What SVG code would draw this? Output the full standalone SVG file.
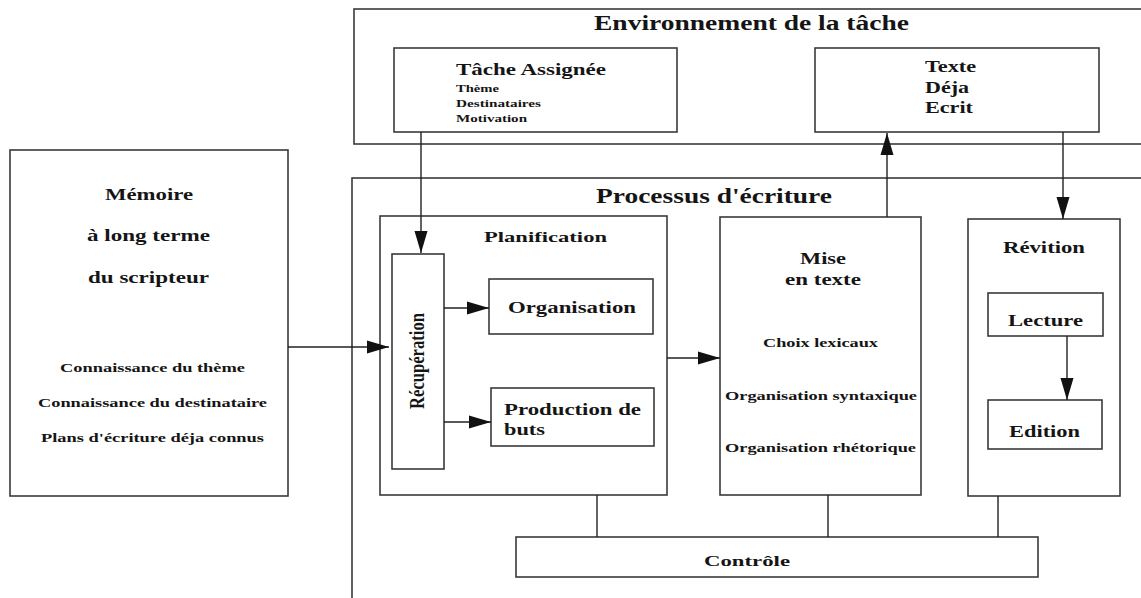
<svg xmlns="http://www.w3.org/2000/svg" width="1141" height="598" viewBox="0 0 1141 598">
<defs>
<style>
.box{fill:#fff;stroke:#3a3a3a;stroke-width:1.6}
.frame{fill:none;stroke:#3a3a3a;stroke-width:1.6}
.ln{fill:none;stroke:#222;stroke-width:1.4}
text{font-family:"Liberation Serif","Times New Roman",serif;font-weight:bold;fill:#151515}
</style>
<marker id="ah" markerUnits="userSpaceOnUse" markerWidth="24" markerHeight="14" refX="22" refY="7" orient="auto">
<path d="M0,0.5 L22,7 L0,13.5 z" fill="#111"/>
</marker>
</defs>
<rect width="1141" height="598" fill="#fff"/>

<g id="environnement">
<rect class="frame" x="354" y="9" width="800" height="135"/>
<text x="594" y="30" font-size="20" textLength="315" lengthAdjust="spacingAndGlyphs">Environnement de la tâche</text>
</g>
<g id="tache-assignee">
<rect class="box" x="394" y="48" width="283" height="84"/>
<text x="456" y="75" font-size="17" textLength="150" lengthAdjust="spacingAndGlyphs">Tâche Assignée</text>
<text x="456" y="92" font-size="10" textLength="43" lengthAdjust="spacingAndGlyphs">Thème</text>
<text x="456" y="107" font-size="10" textLength="85" lengthAdjust="spacingAndGlyphs">Destinataires</text>
<text x="456" y="122" font-size="10" textLength="71" lengthAdjust="spacingAndGlyphs">Motivation</text>
</g>
<g id="texte-deja-ecrit">
<rect class="box" x="815" y="48" width="284" height="84"/>
<text x="925" y="72" font-size="16" textLength="51" lengthAdjust="spacingAndGlyphs">Texte</text>
<text x="925" y="93" font-size="16" textLength="44" lengthAdjust="spacingAndGlyphs">Déja</text>
<text x="925" y="113" font-size="16" textLength="48" lengthAdjust="spacingAndGlyphs">Ecrit</text>
</g>

<g id="memoire">
<rect class="box" x="10" y="150" width="278" height="346"/>
<text x="105" y="200" font-size="16" textLength="88" lengthAdjust="spacingAndGlyphs">Mémoire</text>
<text x="87" y="241" font-size="16" textLength="123" lengthAdjust="spacingAndGlyphs">à long terme</text>
<text x="88" y="283" font-size="16" textLength="121" lengthAdjust="spacingAndGlyphs">du scripteur</text>
<text x="60" y="372" font-size="13" textLength="185" lengthAdjust="spacingAndGlyphs">Connaissance du thème</text>
<text x="38" y="407" font-size="13" textLength="229" lengthAdjust="spacingAndGlyphs">Connaissance du destinataire</text>
<text x="41" y="442" font-size="13" textLength="223" lengthAdjust="spacingAndGlyphs">Plans d'écriture déja connus</text>
</g>

<g id="processus">
<rect class="frame" x="352" y="178" width="800" height="430"/>
<text x="596" y="203" font-size="20" textLength="236" lengthAdjust="spacingAndGlyphs">Processus d'écriture</text>
</g>

<g id="planification">
<rect class="box" x="380" y="216" width="287" height="279"/>
<text x="484" y="242" font-size="15" textLength="123" lengthAdjust="spacingAndGlyphs">Planification</text>
</g>
<g id="recuperation">
<rect class="box" x="392" y="254" width="52" height="215"/>
<text transform="translate(424,361) rotate(-90) scale(1,1.35)" x="0" y="0" font-size="16" text-anchor="middle" textLength="96" lengthAdjust="spacingAndGlyphs">Récupération</text>
</g>
<g id="organisation">
<rect class="box" x="489" y="279" width="164" height="55"/>
<text x="508" y="313" font-size="17" textLength="128" lengthAdjust="spacingAndGlyphs">Organisation</text>
</g>
<g id="production-de-buts">
<rect class="box" x="491" y="388" width="163" height="58"/>
<text x="504" y="415" font-size="17" textLength="137" lengthAdjust="spacingAndGlyphs">Production de</text>
<text x="504" y="435" font-size="17" textLength="41" lengthAdjust="spacingAndGlyphs">buts</text>
</g>

<g id="mise-en-texte">
<rect class="box" x="720" y="217" width="201" height="278"/>
<text x="800" y="264" font-size="17" textLength="46" lengthAdjust="spacingAndGlyphs">Mise</text>
<text x="785" y="285" font-size="17" textLength="76" lengthAdjust="spacingAndGlyphs">en texte</text>
<text x="763" y="347" font-size="12.5" textLength="115" lengthAdjust="spacingAndGlyphs">Choix lexicaux</text>
<text x="725" y="400" font-size="12.5" textLength="192" lengthAdjust="spacingAndGlyphs">Organisation syntaxique</text>
<text x="725" y="452" font-size="12.5" textLength="191" lengthAdjust="spacingAndGlyphs">Organisation rhétorique</text>
</g>

<g id="revition">
<rect class="box" x="968" y="219" width="152" height="277"/>
<text x="1003" y="253" font-size="16" textLength="82" lengthAdjust="spacingAndGlyphs">Révition</text>
</g>
<g id="lecture">
<rect class="box" x="988" y="293" width="115" height="43"/>
<text x="1008" y="326" font-size="17" textLength="75" lengthAdjust="spacingAndGlyphs">Lecture</text>
</g>
<g id="edition">
<rect class="box" x="988" y="400" width="114" height="49"/>
<text x="1009" y="437" font-size="17" textLength="71" lengthAdjust="spacingAndGlyphs">Edition</text>
</g>

<g id="controle">
<rect class="box" x="516" y="537" width="522" height="40"/>
<text x="704" y="566" font-size="15" textLength="86" lengthAdjust="spacingAndGlyphs">Contrôle</text>
</g>

<g id="connectors">
<line class="ln" x1="421" y1="132" x2="421" y2="253" marker-end="url(#ah)"/>
<line class="ln" x1="887" y1="217" x2="887" y2="133" marker-end="url(#ah)"/>
<line class="ln" x1="1063" y1="132" x2="1063" y2="219" marker-end="url(#ah)"/>
<line class="ln" x1="288" y1="347" x2="389" y2="347" marker-end="url(#ah)"/>
<line class="ln" x1="444" y1="308" x2="489" y2="308" marker-end="url(#ah)"/>
<line class="ln" x1="444" y1="422" x2="491" y2="422" marker-end="url(#ah)"/>
<line class="ln" x1="667" y1="358" x2="720" y2="358" marker-end="url(#ah)"/>
<line class="ln" x1="1067" y1="336" x2="1067" y2="400" marker-end="url(#ah)"/>
<line class="ln" x1="597" y1="495" x2="597" y2="537"/>
<line class="ln" x1="828" y1="495" x2="828" y2="537"/>
<line class="ln" x1="998" y1="496" x2="998" y2="537"/>
</g>
</svg>
